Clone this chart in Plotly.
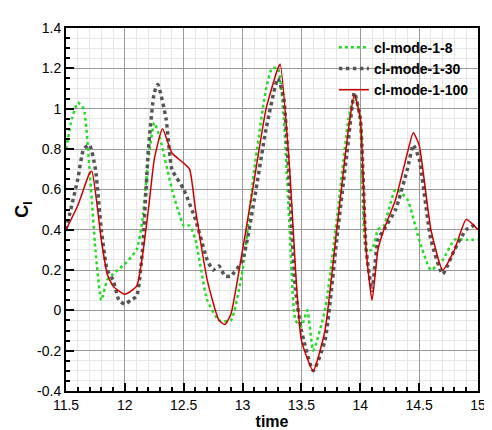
import plotly.graph_objects as go

t_red = [11.5,11.6,11.7,11.72,11.8,11.85,11.9,12.0,12.1,12.2,12.25,12.32,12.4,12.5,12.55,12.6,12.7,12.8,12.85,12.9,13.0,13.1,13.2,13.3,13.32,13.4,13.45,13.5,13.6,13.7,13.8,13.9,13.95,14.0,14.05,14.1,14.15,14.2,14.3,14.4,14.45,14.5,14.6,14.7,14.8,14.9,15.0]
v_red = [0.4,0.52,0.68,0.69,0.35,0.18,0.12,0.08,0.12,0.5,0.75,0.9,0.78,0.73,0.7,0.5,0.15,-0.05,-0.07,-0.02,0.3,0.65,1.0,1.2,1.22,0.7,0.2,-0.15,-0.3,-0.1,0.4,0.9,1.07,0.95,0.3,0.05,0.3,0.4,0.55,0.78,0.88,0.82,0.4,0.2,0.3,0.45,0.4]

t_gray = [11.5,11.6,11.65,11.7,11.75,11.8,11.85,11.9,11.95,12.0,12.05,12.1,12.15,12.2,12.25,12.28,12.35,12.4,12.5,12.6,12.7,12.75,12.8,12.85,12.9,13.0,13.1,13.2,13.3,13.35,13.4,13.45,13.5,13.6,13.7,13.8,13.9,13.95,14.0,14.05,14.1,14.15,14.2,14.3,14.4,14.45,14.5,14.6,14.7,14.8,14.9,15.0]
v_gray = [0.4,0.65,0.8,0.82,0.7,0.4,0.2,0.15,0.05,0.03,0.05,0.07,0.3,0.8,1.08,1.12,0.95,0.7,0.6,0.45,0.25,0.2,0.22,0.17,0.17,0.25,0.55,0.9,1.15,1.05,0.6,0.1,-0.1,-0.3,-0.15,0.35,0.85,1.08,0.95,0.3,0.1,0.35,0.4,0.5,0.7,0.82,0.75,0.35,0.18,0.3,0.4,0.43]

t_green = [11.5,11.55,11.6,11.65,11.7,11.75,11.8,11.85,11.9,12.0,12.1,12.15,12.2,12.25,12.3,12.4,12.45,12.5,12.55,12.6,12.7,12.8,12.9,13.0,13.1,13.2,13.25,13.3,13.35,13.4,13.45,13.5,13.55,13.6,13.7,13.8,13.9,13.95,14.0,14.05,14.1,14.15,14.2,14.3,14.4,14.5,14.6,14.7,14.8,14.9,15.0]
v_green = [0.8,0.95,1.03,1.0,0.7,0.3,0.05,0.15,0.18,0.23,0.3,0.45,0.75,0.93,0.85,0.6,0.5,0.42,0.42,0.35,0.05,-0.05,-0.05,0.2,0.7,1.1,1.2,1.2,0.95,0.4,-0.05,-0.08,0.0,-0.2,0.0,0.45,0.95,1.07,0.95,0.3,0.3,0.4,0.42,0.6,0.55,0.35,0.2,0.25,0.35,0.35,0.35]

x_ticks = [11.5, 12, 12.5, 13, 13.5, 14, 14.5, 15]
x_labels = ["11.5", "12", "12.5", "13", "13.5", "14", "14.5", "15"]
y_ticks = [-0.4, -0.2, 0, 0.2, 0.4, 0.6, 0.8, 1, 1.2, 1.4]
y_labels = ["-0.4", "-0.2", "0", "0.2", "0.4", "0.6", "0.8", "1", "1.2", "1.4"]

fig = go.Figure()
fig.add_trace(go.Scatter(x=t_green, y=v_green, mode="lines", name="<b>cl-mode-1-8</b>",
                         line=dict(color="#22dd22", width=2.5, dash="dot", shape="spline", smoothing=0.5)))
fig.add_trace(go.Scatter(x=t_gray, y=v_gray, mode="lines", name="<b>cl-mode-1-30</b>",
                         line=dict(color="#555555", width=3.5, dash="dot", shape="spline", smoothing=0.5)))
fig.add_trace(go.Scatter(x=t_red, y=v_red, mode="lines", name="<b>cl-mode-1-100</b>",
                         line=dict(color="#cc0000", width=1.5, shape="spline", smoothing=0.5)))

font = dict(family="Liberation Sans, Arial", size=14, color="black")
axis_common = dict(showline=True, linecolor="black", linewidth=2, mirror=True,
                   ticks="inside", ticklen=8, tickwidth=2, tickcolor="black",
                   gridcolor="#999999", gridwidth=1, zeroline=False, tickfont=font)
fig.update_xaxes(range=[11.5, 15], tickmode="array", tickvals=x_ticks, ticktext=x_labels,
                 minor=dict(dtick=0.1, tick0=11.5, showgrid=True, gridcolor="#e6e6e6", ticks="inside", ticklen=4, tickcolor="black"),
                 title=dict(text="<b>time</b>", font=dict(family="Liberation Sans, Arial", size=16, color="black"), standoff=2),
                 **axis_common)
fig.update_yaxes(range=[-0.4, 1.4], tickmode="array", tickvals=y_ticks, ticktext=y_labels,
                 minor=dict(dtick=0.05, tick0=0, showgrid=True, gridcolor="#e6e6e6", ticks="inside", ticklen=4, tickcolor="black"),
                 title=dict(text="<b>C<sub>l</sub></b>", font=dict(family="Liberation Sans, Arial", size=18, color="black"), standoff=4),
                 **axis_common)
fig.update_layout(width=492, height=430, margin=dict(l=57, r=22, t=13, b=37),
                  plot_bgcolor="white", paper_bgcolor="white",
                  legend=dict(x=0.99, y=0.99, xanchor="right", yanchor="top", bgcolor="rgba(255,255,255,0)",
                              font=font, tracegroupgap=0))
fig.write_html("out.html")
